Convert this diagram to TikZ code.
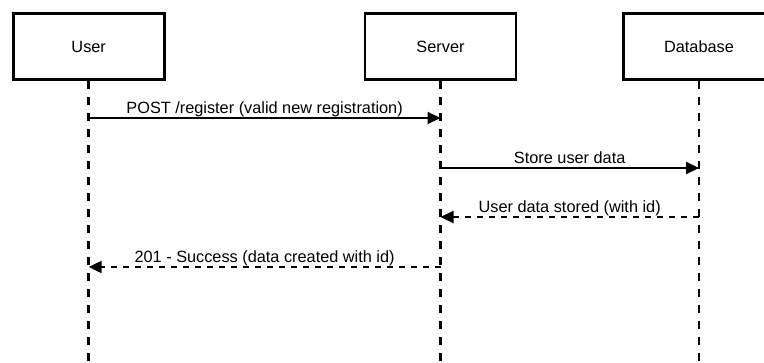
\documentclass[tikz,border=0pt]{standalone}
\usepackage{fontspec}
\setmainfont{Liberation Sans}
\usetikzlibrary{arrows.meta}

\tikzset{
  actor/.style={draw=black, line width=2.8pt, fill=white, minimum width=151pt,
    minimum height=66.4pt, inner sep=0pt, font=\fontsize{16.3}{19}\selectfont},
  lifeline/.style={draw=black, line width=2.6pt, dash pattern=on 8pt off 8pt},
  msg/.style={draw=black, line width=2.2pt, -{Triangle[length=13pt, width=12pt]}},
  reply/.style={msg, dash pattern=on 6pt off 6pt},
  msglabel/.style={anchor=base, inner sep=0pt, font=\fontsize{16.3}{19}\selectfont}
}

\begin{document}
\begin{tikzpicture}[x=1pt, y=-1pt]
  \useasboundingbox (0,0) rectangle (764,362);

  % participants
  \node[actor] (user) at (88.7,46.5) {User};
  \node[actor] (server) at (440.5,46.5) {Server};
  \node[actor] (db) at (699,46.5) {Database};

  % lifeline ends
  \coordinate (userEnd) at (88.7,364);
  \coordinate (serverEnd) at (440.5,364);
  \coordinate (dbEnd) at (699,364);

  \begin{scope}
    \clip (0,0) rectangle (764,362);
    \draw[lifeline] (user.south) -- (userEnd);
    \draw[lifeline] (server.south) -- (serverEnd);
    \draw[lifeline] (db.south) -- (dbEnd);
  \end{scope}

  % message anchor points on the lifelines
  \coordinate (u1) at (88.7,118);
  \coordinate (s1) at (440.5,118);
  \coordinate (s2) at (440.5,168);
  \coordinate (d2) at (699,168);
  \coordinate (d3) at (699,217);
  \coordinate (s3) at (440.5,217);
  \coordinate (s4) at (440.5,267);
  \coordinate (u4) at (88.7,267);

  % messages
  \draw[msg] (u1) -- (s1);
  \node[msglabel] (l1) at (264.6,113) {POST /register (valid new registration)};

  \draw[msg] (s2) -- (d2);
  \node[msglabel] (l2) at (569.7,163) {Store user data};

  \draw[reply] (d3) -- (s3);
  \node[msglabel] (l3) at (569.7,212) {User data stored (with id)};

  \draw[reply] (s4) -- (u4);
  \node[msglabel] (l4) at (264.6,262) {201 - Success (data created with id)};
\end{tikzpicture}
\end{document}
